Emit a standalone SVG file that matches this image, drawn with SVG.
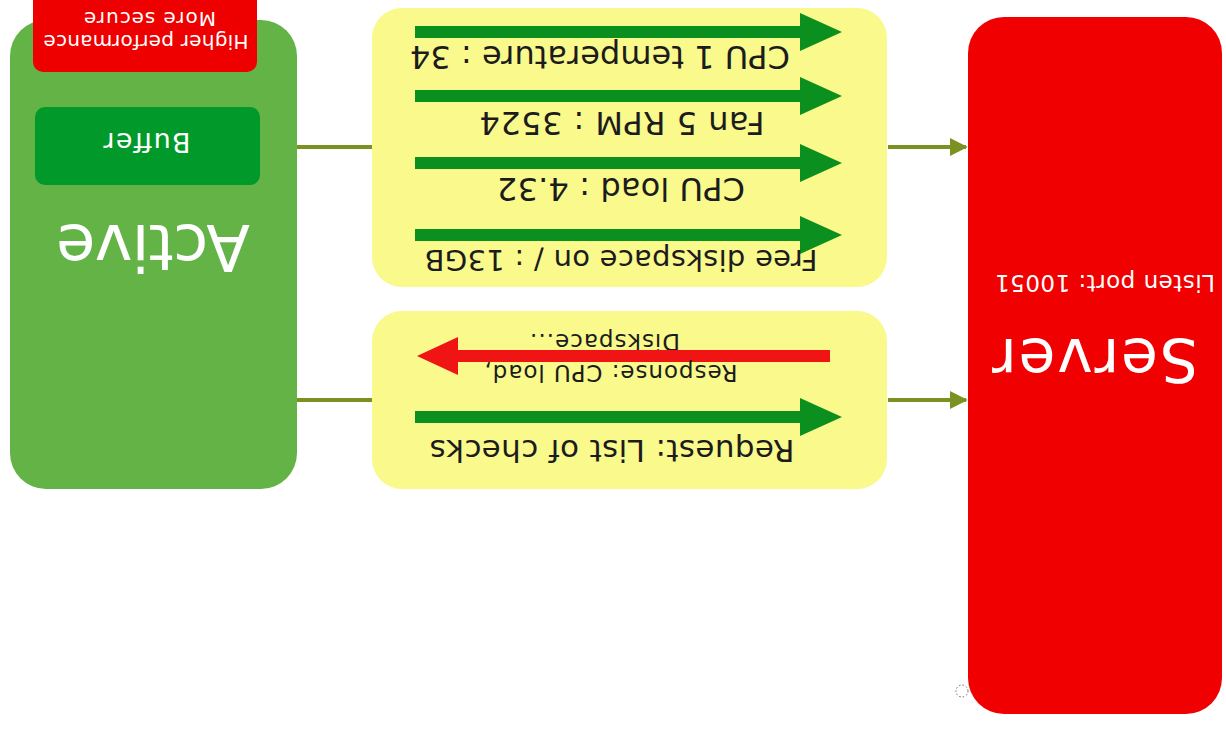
<svg xmlns="http://www.w3.org/2000/svg" xmlns:xlink="http://www.w3.org/1999/xlink" width="1226" height="735" viewBox="0 0 1226 735">
  <style>
    text { font-family: "DejaVu Sans", "Liberation Sans", sans-serif; }
    .light { fill: #ffffff; }
    .dark { fill: #1c1c1c; }
    .panel { fill: #f9f98c; }
    .link { stroke: #7c9220; stroke-width: 4; fill: none; }
    .push { fill: #0b8f1f; }
    .pull { fill: #f01414; }
  </style>
  <defs>
    <!-- broad block arrow, pointing along +x, origin at the tail centre -->
    <path id="blockArrow" d="M0,-6 H385 V-19 L427,0 L385,19 V6 H0 Z"/>
    <marker id="linkHead" viewBox="0 0 10 10" refX="9" refY="5" markerWidth="4.5" markerHeight="4.5" orient="auto" markerUnits="strokeWidth">
      <path d="M0,0 L10,5 L0,10 Z" fill="#7c9220"/>
    </marker>
  </defs>

  <rect width="1226" height="735" fill="#ffffff"/>

  <!-- connectors between agent, data channels and server -->
  <g id="connectors">
    <line class="link" x1="297" y1="147" x2="372" y2="147"/>
    <line class="link" x1="297" y1="400" x2="372" y2="400"/>
    <line class="link" x1="888" y1="147" x2="966" y2="147" marker-end="url(#linkHead)"/>
    <line class="link" x1="888" y1="400" x2="966" y2="400" marker-end="url(#linkHead)"/>
  </g>

  <!-- active agent -->
  <g id="active">
    <rect x="10" y="20" width="287" height="469" rx="36" fill="#63b347"/>
    <text class="light" x="153" y="225" font-size="64" text-anchor="middle" textLength="194" transform="rotate(180 153 225)">Active</text>
  </g>

  <g id="tradeoff">
    <rect x="33" y="-12" width="224" height="84" rx="10" fill="#ee0000"/>
    <text class="light" x="146" y="35" font-size="20" text-anchor="middle" textLength="205" transform="rotate(180 146 35)">Higher performance</text>
    <text class="light" x="150" y="12" font-size="20" text-anchor="middle" textLength="132" transform="rotate(180 150 12)">More secure</text>
  </g>

  <g id="buffer">
    <rect x="35" y="107" width="225" height="78" rx="10" fill="#00992a"/>
    <text class="light" x="147" y="133" font-size="27" text-anchor="middle" textLength="87" transform="rotate(180 147 133)">Buffer</text>
  </g>

  <!-- values pushed by the agent -->
  <g id="values">
    <rect class="panel" x="372" y="8" width="515" height="279" rx="30"/>
    <use xlink:href="#blockArrow" class="push" x="415" y="32"/>
    <use xlink:href="#blockArrow" class="push" x="415" y="96"/>
    <use xlink:href="#blockArrow" class="push" x="415" y="163"/>
    <use xlink:href="#blockArrow" class="push" x="415" y="235"/>
    <text class="dark" x="600" y="46" font-size="32" text-anchor="middle" textLength="380" transform="rotate(180 600 46)">CPU 1 temperature : 34</text>
    <text class="dark" x="622" y="112" font-size="32" text-anchor="middle" textLength="285" transform="rotate(180 622 112)">Fan 5 RPM : 3524</text>
    <text class="dark" x="621" y="178" font-size="32" text-anchor="middle" textLength="248" transform="rotate(180 621 178)">CPU load : 4.32</text>
    <text class="dark" x="621" y="250" font-size="29" text-anchor="middle" textLength="393" transform="rotate(180 621 250)">Free diskspace on / : 13GB</text>
  </g>

  <!-- request / response exchange -->
  <g id="exchange">
    <rect class="panel" x="372" y="311" width="515" height="178" rx="30"/>
    <text class="dark" x="605" y="334" font-size="23" text-anchor="middle" textLength="150" transform="rotate(180 605 334)">Diskspace...</text>
    <path class="pull" d="M830,350 H458 V337 L417,356 L458,375 V362 H830 Z"/>
    <text class="dark" x="611" y="365" font-size="23" text-anchor="middle" textLength="253" transform="rotate(180 611 365)">Response: CPU load,</text>
    <use xlink:href="#blockArrow" class="push" x="415" y="417"/>
    <text class="dark" x="612" y="440" font-size="31" text-anchor="middle" textLength="365" transform="rotate(180 612 440)">Request: List of checks</text>
  </g>

  <!-- server -->
  <g id="server">
    <rect x="968" y="17" width="254" height="697" rx="36" fill="#f00000"/>
    <text class="light" x="1105" y="275" font-size="23" text-anchor="middle" textLength="220" transform="rotate(180 1105 275)">Listen port: 10051</text>
    <text class="light" x="1095" y="339" font-size="60" text-anchor="middle" textLength="206" transform="rotate(180 1095 339)">Server</text>
    <circle cx="962" cy="691" r="6" fill="none" stroke="#666666" stroke-width="1" stroke-dasharray="1.5 2"/>
  </g>
</svg>
